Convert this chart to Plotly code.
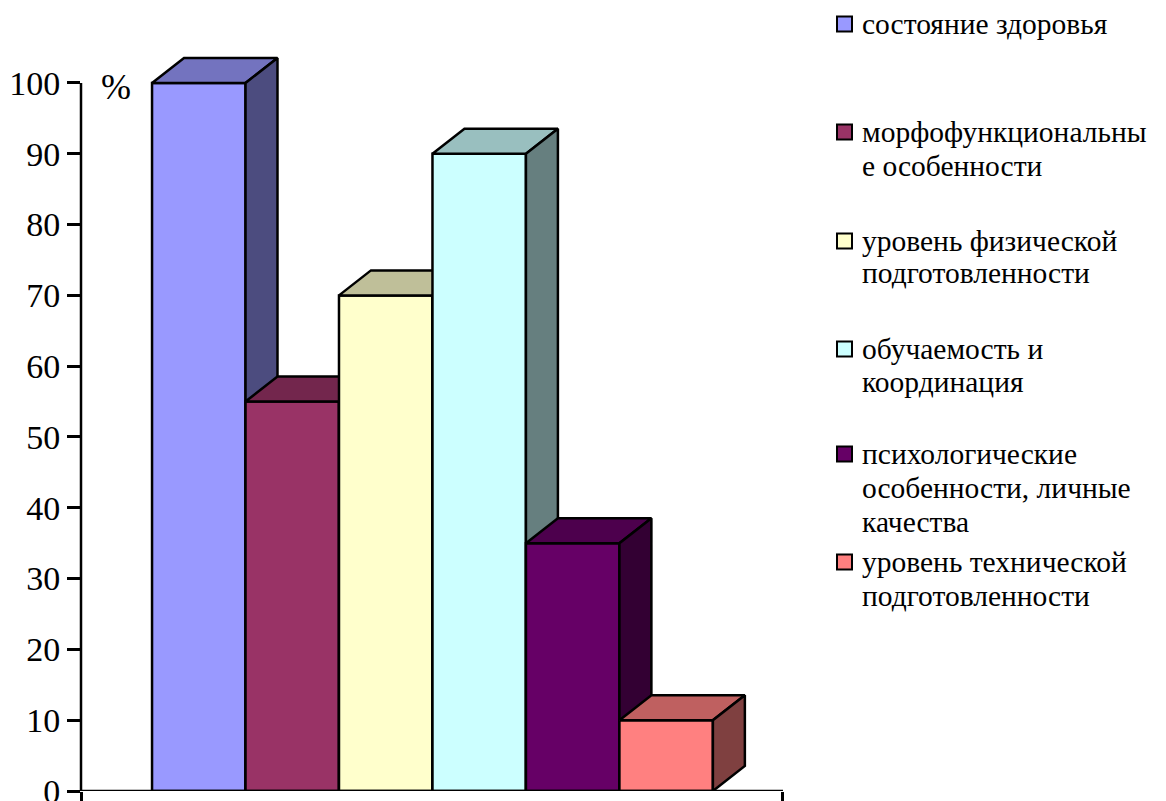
import plotly.graph_objects as go

# ---- data ----
categories = [
    "состояние здоровья",
    "морфофункциональные особенности",
    "уровень физической подготовленности",
    "обучаемость и координация",
    "психологические особенности, личные качества",
    "уровень технической подготовленности",
]
legend_lines = [
    ["состояние здоровья"],
    ["морфофункциональны", "е особенности"],
    ["уровень физической", "подготовленности"],
    ["обучаемость и", "координация"],
    ["психологические", "особенности, личные", "качества"],
    ["уровень технической", "подготовленности"],
]
values = [100, 55, 70, 90, 35, 10]
y_ticks = [0, 10, 20, 30, 40, 50, 60, 70, 80, 90, 100]

front_colors = ["#9999FF", "#993366", "#FFFFCC", "#CCFFFF", "#660066", "#FF8080"]
top_colors = ["#7373BF", "#73264D", "#BFBF99", "#99BFBF", "#4D004D", "#BF6060"]
side_colors = ["#4C4C7F", "#4C1933", "#7F7F66", "#667F7F", "#330033", "#7F4040"]

# ---- geometry (layout) ----
W, H = 1166, 801
L, R, T, B = 81, 383, 0, 10
X_MAX = 7.51
Y_MAX = 111.72
start = 0.76
dx, dy = 0.342, 3.53
lw = 2.5
FONT = "Liberation Serif"


def px2x(px):
    return (px - L) / (W - L - R)


def px2y(py):
    return (H - B - py) / (H - T - B)


fig = go.Figure()

for i, v in enumerate(values):
    x0 = start + i
    x1 = x0 + 1
    faces = [
        ([x0, x1, x1, x0, x0], [0, 0, v, v, 0], front_colors[i]),
        ([x0, x1, x1 + dx, x0 + dx, x0], [v, v, v + dy, v + dy, v], top_colors[i]),
        ([x1, x1 + dx, x1 + dx, x1, x1], [0, dy, v + dy, v, 0], side_colors[i]),
    ]
    for fx, fy, col in faces:
        fig.add_trace(go.Scatter(
            x=fx, y=fy, mode="lines", fill="toself", fillcolor=col,
            line=dict(color="black", width=lw), hoverinfo="skip",
            name=categories[i], showlegend=False,
        ))

shapes = [
    dict(type="line", xref="paper", yref="y", x0=0, x1=0, y0=0, y1=100,
         line=dict(color="black", width=lw)),
    dict(type="line", xref="paper", yref="y", x0=0, x1=1, y0=0, y1=0,
         line=dict(color="black", width=lw)),
]
annotations = [
    dict(text="%", xref="paper", yref="paper", x=px2x(116), y=px2y(87),
         xanchor="center", yanchor="middle", showarrow=False,
         font=dict(family=FONT, size=36, color="black")),
]

legend_y = [[25], [133, 167], [242, 274], [350, 383], [455, 489, 523], [563, 597]]
sq = 15
for i, lines in enumerate(legend_lines):
    cy = legend_y[i][0]
    shapes.append(dict(type="rect", xref="paper", yref="paper",
                       x0=px2x(837), x1=px2x(837 + sq),
                       y0=px2y(cy - 1 + sq / 2), y1=px2y(cy - 1 - sq / 2),
                       fillcolor=front_colors[i], line=dict(color="black", width=2)))
    for j, txt in enumerate(lines):
        annotations.append(dict(text=txt, xref="paper", yref="paper",
                                x=px2x(860), y=px2y(legend_y[i][j] - 1),
                                xanchor="left", yanchor="middle", showarrow=False,
                                font=dict(family=FONT, size=29.5, color="black")))

fig.update_layout(
    width=W, height=H,
    margin=dict(l=L, r=R, t=T, b=B, pad=0, autoexpand=False),
    paper_bgcolor="white", plot_bgcolor="white",
    showlegend=False,
    shapes=shapes, annotations=annotations,
    xaxis=dict(range=[0, X_MAX], showgrid=False, zeroline=False,
               showline=False, automargin=False,
               ticks="outside", tickvals=[0, X_MAX - 0.001], ticklen=10,
               tickwidth=lw, tickcolor="black", showticklabels=False,
               fixedrange=True),
    yaxis=dict(range=[0, Y_MAX], showgrid=False, zeroline=False,
               showline=False, automargin=False, ticks="outside", tickvals=y_ticks,
               ticklen=13, tickwidth=lw, tickcolor="black",
               ticklabeloverflow="allow",
               tickfont=dict(family=FONT, size=34, color="black"),
               fixedrange=True),
)

fig.write_html("out.html")
